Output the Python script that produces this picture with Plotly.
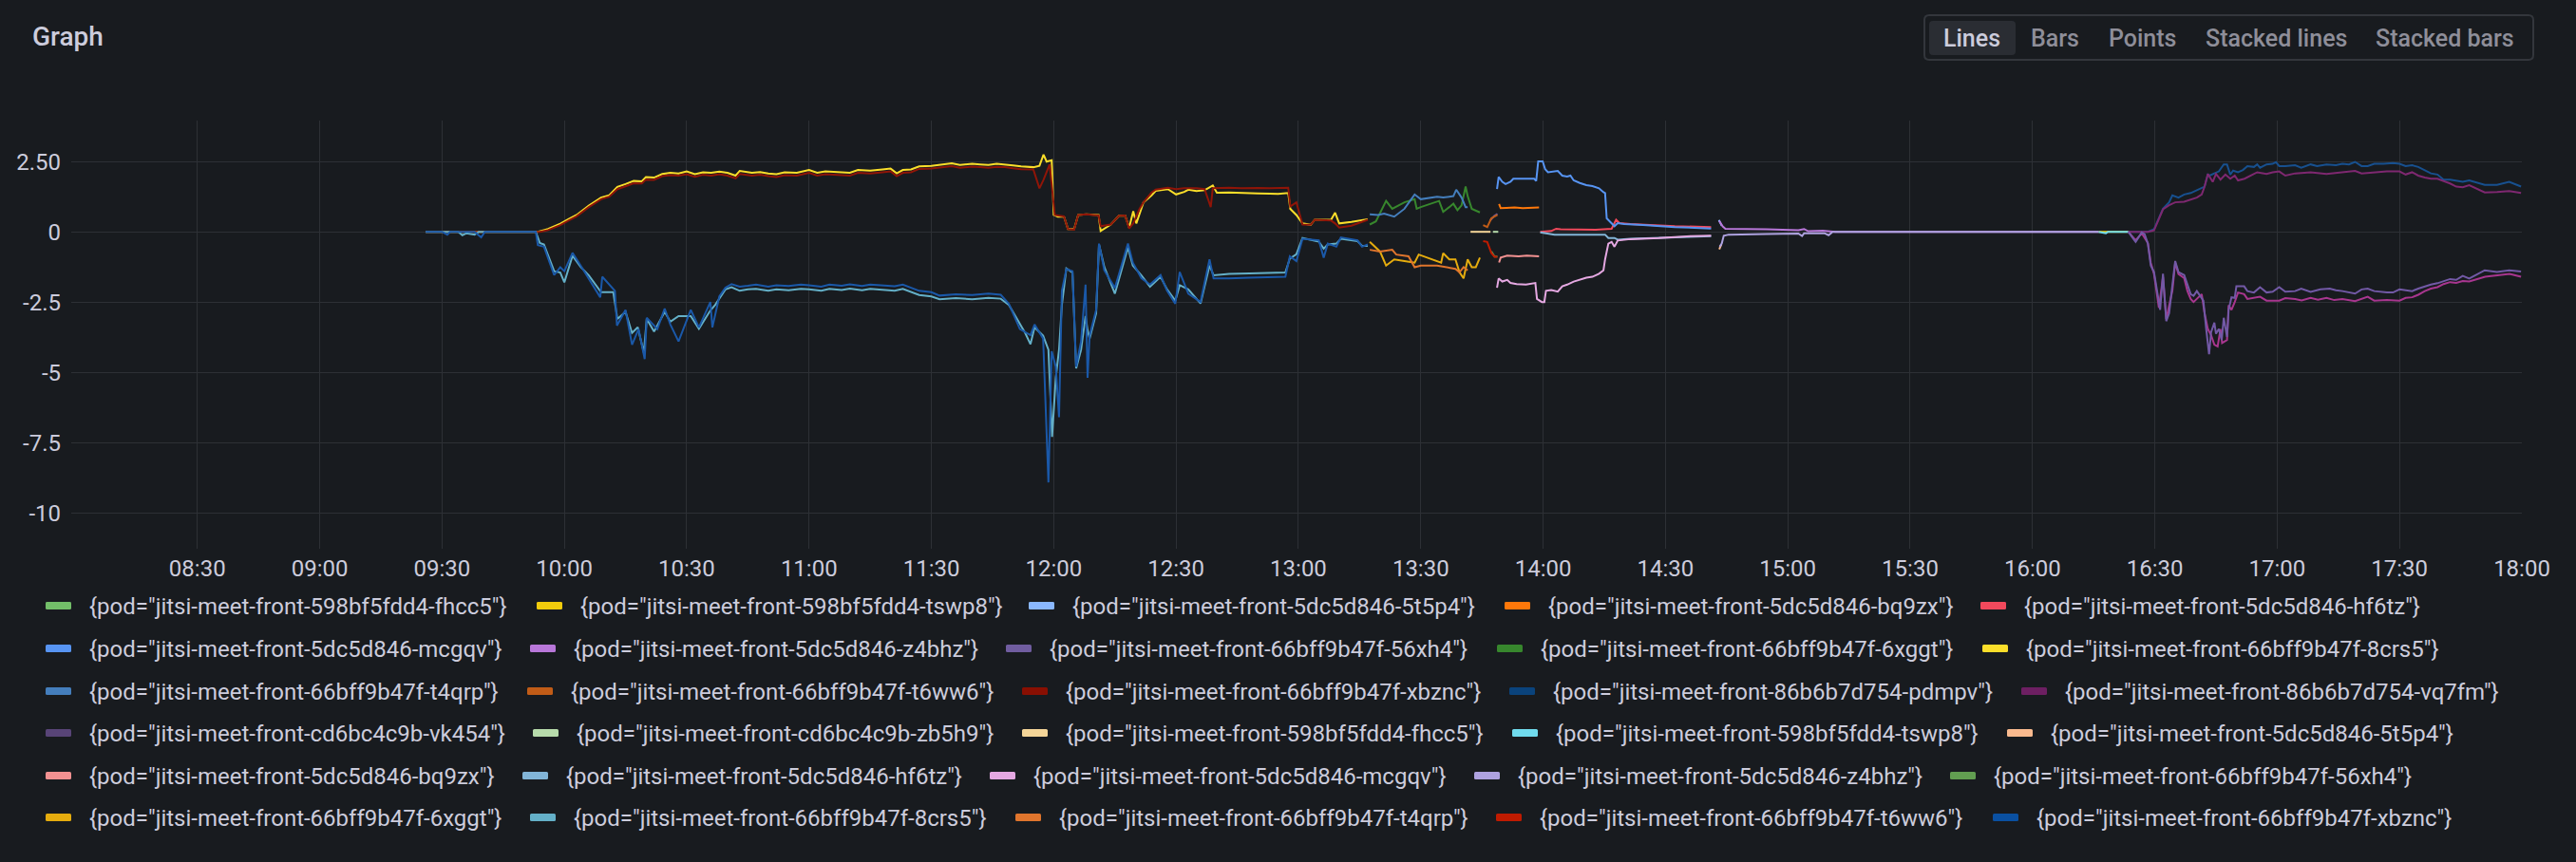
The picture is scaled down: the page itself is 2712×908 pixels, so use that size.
import plotly.graph_objects as go

DAY = "2024-03-15"
W, H = 2712, 908
L, R, T, B = 75, 57, 127, 330
PW, PH = W - L - R, H - T - B
BG = "#181b1f"
TXT = "#ccccdc"
FONT = "Roboto"

# ---------------- axis ticks ----------------
x_tick_labels = ["08:30", "09:00", "09:30", "10:00", "10:30", "11:00", "11:30", "12:00", "12:30",
                 "13:00", "13:30", "14:00", "14:30", "15:00", "15:30", "16:00", "16:30", "17:00",
                 "17:30", "18:00"]
y_tick_vals = [2.5, 0, -2.5, -5, -7.5, -10]
y_tick_text = ["2.50", "0", "-2.5", "-5", "-7.5", "-10"]
x_range = ["07:59:05", "18:00:00"]
y_range = [-11.28, 3.96]

# ---------------- legend ----------------
legend_names = [
    "598bf5fdd4-fhcc5", "598bf5fdd4-tswp8", "5dc5d846-5t5p4", "5dc5d846-bq9zx", "5dc5d846-hf6tz",
    "5dc5d846-mcgqv", "5dc5d846-z4bhz", "66bff9b47f-56xh4", "66bff9b47f-6xggt", "66bff9b47f-8crs5",
    "66bff9b47f-t4qrp", "66bff9b47f-t6ww6", "66bff9b47f-xbznc", "86b6b7d754-pdmpv", "86b6b7d754-vq7fm",
    "cd6bc4c9b-vk454", "cd6bc4c9b-zb5h9", "598bf5fdd4-fhcc5", "598bf5fdd4-tswp8", "5dc5d846-5t5p4",
    "5dc5d846-bq9zx", "5dc5d846-hf6tz", "5dc5d846-mcgqv", "5dc5d846-z4bhz", "66bff9b47f-56xh4",
    "66bff9b47f-6xggt", "66bff9b47f-8crs5", "66bff9b47f-t4qrp", "66bff9b47f-t6ww6", "66bff9b47f-xbznc",
]
legend_colors = [
    "#73BF69", "#F2CC0C", "#8AB8FF", "#FF780A", "#F2495C",
    "#5794F2", "#B877D9", "#705DA0", "#37872D", "#FADE2A",
    "#447EBC", "#C15C17", "#890F02", "#0A437C", "#6D1F62",
    "#584477", "#B7DBAB", "#F4D598", "#70DBED", "#F9BA8F",
    "#F29191", "#82B5D8", "#E5A8E2", "#AEA2E0", "#629E51",
    "#E5AC0E", "#64B0C8", "#E0752D", "#BF1B00", "#0A50A1",
]

# ---------------- series data (time, value) ----------------
up_tswp8 = [("16:16:12", 0), ("16:23:30", 0)]
up_5t5p4 = [("14:43:06", 0.42), ("14:43:48", 0.22)]
up_bq9zx = [("13:49:12", 0.99), ("13:49:36", 0.84), ("13:51", 0.85), ("13:53", 0.87), ("13:55", 0.84),
            ("13:57", 0.86), ("13:59", 0.87)]
up_hf6tz = [("13:59:18", 0.0), ("14:02", 0.03), ("14:03:12", 0.11), ("14:04:18", 0.09), ("14:12:54", 0.07),
            ("14:16:48", 0.11), ("14:17:54", 0.43), ("14:18:42", 0.31), ("14:21:24", 0.28), ("14:32:18", 0.20),
            ("14:41:12", 0.17)]
up_mcgqv = [("13:48:42", 1.52), ("13:49:06", 1.95), ("13:50", 1.78), ("13:50:48", 1.70), ("13:52", 1.78),
            ("13:52:42", 1.89), ("13:55", 1.89), ("13:57:48", 1.89), ("13:58:18", 1.81), ("13:58:48", 2.51),
            ("13:59:54", 2.51), ("14:00:30", 2.23), ("14:01:12", 2.12), ("14:02:24", 2.15), ("14:03:36", 2.17),
            ("14:04:42", 2.00), ("14:05:54", 1.97), ("14:06:42", 2.00), ("14:07:30", 1.83), ("14:09", 1.74),
            ("14:10:36", 1.66), ("14:12:06", 1.63), ("14:13:42", 1.55), ("14:14:48", 1.41), ("14:15:12", 1.38),
            ("14:15:36", 0.48), ("14:16:48", 0.31), ("14:17:30", 0.20), ("14:18:18", 0.31), ("14:19:54", 0.28),
            ("14:24:30", 0.24), ("14:32:18", 0.17), ("14:41:12", 0.12)]
up_z4bhz = [("14:43:12", 0.39), ("14:44", 0.20), ("14:44:42", 0.11), ("14:47:48", 0.11), ("14:54:48", 0.09),
            ("15:02:36", 0.06), ("15:04", 0.10), ("15:05", 0.02), ("15:08:36", 0.04), ("15:11:36", 0.0),
            ("16:16:12", 0.0)]
up_56xh4 = [("13:47", 0.40), ("13:48", 0.56), ("13:48:48", 0.64)]
up_6xggt = [("13:17:30", 0.26), ("13:19", 0.37), ("13:21:30", 1.10), ("13:23", 0.82), ("13:26", 1.05),
            ("13:28:30", 1.16), ("13:29", 0.82), ("13:30", 0.88), ("13:34:30", 1.10), ("13:35:30", 0.71),
            ("13:37", 0.88), ("13:38", 1.00), ("13:39", 0.77), ("13:40", 0.94), ("13:41", 1.61),
            ("13:41:30", 1.27), ("13:42:30", 0.82), ("13:44:30", 0.69)]
up_8crs5 = [("09:26", 0), ("09:53:30", 0), ("09:56", 0.10), ("09:59", 0.29), ("10:01", 0.45), ("10:03", 0.60),
            ("10:06", 0.93), ("10:09", 1.22), ("10:11", 1.30), ("10:13", 1.60), ("10:15", 1.70), ("10:17", 1.81),
            ("10:19", 1.80), ("10:20", 1.95), ("10:22", 1.93), ("10:24", 2.06), ("10:26", 2.10), ("10:28", 2.08),
            ("10:30", 2.15), ("10:32", 2.05), ("10:34", 2.12), ("10:36", 2.10), ("10:38", 2.14), ("10:40", 2.10),
            ("10:42", 2.00), ("10:43", 2.17), ("10:46", 2.10), ("10:48", 2.13), ("10:50", 2.08), ("10:52", 2.05),
            ("10:54", 2.12), ("10:57", 2.10), ("11:00", 2.20), ("11:02", 2.10), ("11:04", 2.15), ("11:07", 2.13),
            ("11:10", 2.10), ("11:12", 2.20), ("11:15", 2.18), ("11:18", 2.22), ("11:20", 2.25), ("11:21:30", 2.08),
            ("11:23", 2.20), ("11:25", 2.22), ("11:27", 2.33), ("11:30", 2.35), ("11:33", 2.40), ("11:35", 2.44),
            ("11:37", 2.38), ("11:40", 2.42), ("11:42", 2.40), ("11:44", 2.38), ("11:46", 2.42), ("11:48", 2.40),
            ("11:50", 2.36), ("11:52", 2.33), ("11:55", 2.30), ("11:56:30", 2.35), ("11:57:30", 2.75),
            ("11:58:15", 2.50), ("11:59:30", 2.55), ("12:00", 0.60), ("12:01", 0.54), ("12:02:30", 0.55),
            ("12:03:30", 0.10), ("12:05", 0.10), ("12:06", 0.60), ("12:08", 0.62), ("12:11", 0.60),
            ("12:11:30", 0.03), ("12:14", 0.26), ("12:16", 0.57), ("12:17:30", 0.58), ("12:18:30", 0.15),
            ("12:19:30", 0.73), ("12:20:15", 0.30), ("12:22", 1.05), ("12:24", 1.30), ("12:25", 1.46),
            ("12:28", 1.52), ("12:30", 1.33), ("12:32", 1.42), ("12:33", 1.50), ("12:35", 1.45), ("12:37", 1.48),
            ("12:39", 1.65), ("12:40", 1.39), ("12:43", 1.40), ("12:46", 1.38), ("12:50", 1.37), ("12:53", 1.36),
            ("12:55", 1.35), ("12:57:30", 1.38), ("12:58", 0.82), ("12:59:30", 0.60), ("13:01", 0.30),
            ("13:03", 0.25), ("13:04", 0.43), ("13:08", 0.43), ("13:09", 0.68), ("13:10", 0.30), ("13:13", 0.35),
            ("13:17", 0.45)]
up_t4qrp = [("13:17:30", 0.62), ("13:19:30", 0.60), ("13:21", 0.65), ("13:23:30", 0.54), ("13:26", 0.82),
            ("13:28:30", 1.33), ("13:30", 1.16), ("13:34", 1.25), ("13:35:30", 1.22), ("13:38", 1.27),
            ("13:38:42", 1.50), ("13:40", 1.22), ("13:41", 0.88), ("13:41:30", 0.88)]
up_t6ww6 = [("13:45:18", 0.24), ("13:46:18", 0.17), ("13:47:18", 0.48), ("13:47:54", 0.54), ("13:48:48", 0.60)]
up_xbznc = [("09:26", 0), ("09:54", 0), ("09:56", 0.06), ("09:59", 0.24), ("10:01", 0.40), ("10:03", 0.55),
            ("10:06", 0.88), ("10:09", 1.16), ("10:11", 1.25), ("10:13", 1.52), ("10:15", 1.62), ("10:17", 1.73),
            ("10:19", 1.72), ("10:20", 1.86), ("10:22", 1.85), ("10:24", 1.98), ("10:26", 2.02), ("10:28", 2.00),
            ("10:30", 2.05), ("10:32", 1.96), ("10:34", 2.03), ("10:36", 2.00), ("10:38", 2.05), ("10:40", 2.00),
            ("10:42", 1.90), ("10:43", 2.06), ("10:46", 2.00), ("10:48", 2.03), ("10:50", 1.98), ("10:52", 1.95),
            ("10:54", 2.02), ("10:57", 2.00), ("11:00", 2.10), ("11:02", 2.00), ("11:04", 2.05), ("11:07", 2.03),
            ("11:10", 2.00), ("11:12", 2.10), ("11:15", 2.08), ("11:18", 2.12), ("11:20", 2.15), ("11:21:30", 1.98),
            ("11:23", 2.10), ("11:25", 2.12), ("11:27", 2.24), ("11:30", 2.25), ("11:33", 2.30), ("11:35", 2.34),
            ("11:37", 2.28), ("11:40", 2.32), ("11:42", 2.30), ("11:44", 2.28), ("11:46", 2.31), ("11:48", 2.30),
            ("11:50", 2.26), ("11:52", 2.23), ("11:55", 2.22), ("11:56:30", 1.55), ("11:57:30", 1.85),
            ("11:59", 2.40), ("12:00:15", 0.60), ("12:02:30", 0.55), ("12:03:30", 0.10), ("12:05", 0.08),
            ("12:06", 0.60), ("12:08", 0.62), ("12:11", 0.58), ("12:11:30", 0.20), ("12:14", 0.26), ("12:16", 0.57),
            ("12:17:30", 0.58), ("12:18:30", 0.12), ("12:19:30", 0.30), ("12:21", 0.80), ("12:22", 1.05),
            ("12:24", 1.40), ("12:25", 1.50), ("12:28", 1.57), ("12:30", 1.52), ("12:32", 1.55), ("12:35", 1.55),
            ("12:37", 1.52), ("12:38:30", 0.88), ("12:39", 1.55), ("12:43", 1.57), ("12:46", 1.55), ("12:50", 1.56),
            ("12:53", 1.55), ("12:57:30", 1.57), ("12:58", 0.90), ("12:59:30", 1.05), ("13:01", 0.26),
            ("13:03", 0.25), ("13:04", 0.43), ("13:08", 0.40), ("13:09", 0.30), ("13:10", 0.15), ("13:13", 0.22),
            ("13:17", 0.43)]
up_pdmpv = [("16:23:30", 0), ("16:28:18", 0), ("16:29:48", 0.09), ("16:32", 0.82), ("16:33:30", 1.05),
            ("16:34:18", 1.30), ("16:35:48", 1.22), ("16:37:12", 1.33), ("16:38:48", 1.38), ("16:40:18", 1.47),
            ("16:41:30", 1.55), ("16:42:12", 1.61), ("16:43", 2.04), ("16:43:24", 2.00), ("16:44:36", 2.08),
            ("16:45:42", 2.15), ("16:46:54", 2.40), ("16:47:42", 2.40), ("16:48:30", 2.04), ("16:49:12", 2.18),
            ("16:50:24", 2.12), ("16:51:36", 2.20), ("16:52:42", 2.34), ("16:54:18", 2.31), ("16:55:06", 2.40),
            ("16:55:48", 2.28), ("16:57:24", 2.40), ("16:58:54", 2.42), ("16:59:42", 2.48), ("17:00:30", 2.34),
            ("17:02", 2.34), ("17:04:24", 2.37), ("17:05:54", 2.28), ("17:08:12", 2.40), ("17:09:48", 2.34),
            ("17:12:06", 2.40), ("17:14:24", 2.37), ("17:16", 2.42), ("17:17:36", 2.40), ("17:19:06", 2.49),
            ("17:20:42", 2.34), ("17:22:12", 2.34), ("17:23:48", 2.42), ("17:26:06", 2.42), ("17:28:24", 2.45),
            ("17:30", 2.42), ("17:31:30", 2.34), ("17:33:06", 2.37), ("17:34:36", 2.31), ("17:36:12", 2.20),
            ("17:37:42", 2.08), ("17:39:18", 2.04), ("17:40:48", 1.86), ("17:42:24", 1.86), ("17:43:54", 1.83),
            ("17:45:30", 1.78), ("17:47:06", 1.83), ("17:50:54", 1.67), ("17:53:54", 1.67), ("17:56:54", 1.78),
            ("17:59:48", 1.61)]
up_vq7fm = [("16:23:30", 0), ("16:28:18", 0), ("16:29:48", 0.05), ("16:32", 0.80), ("16:33:30", 0.95),
            ("16:35", 1.05), ("16:37:12", 1.07), ("16:38:48", 1.16), ("16:40:18", 1.22), ("16:41:30", 1.33),
            ("16:42:12", 1.61), ("16:43", 2.06), ("16:44:12", 1.78), ("16:45", 2.06), ("16:46:06", 1.86),
            ("16:47:18", 2.04), ("16:48:30", 1.89), ("16:49:36", 2.00), ("16:50:24", 1.83), ("16:52", 1.89),
            ("16:53:30", 2.00), ("16:55:06", 2.12), ("16:57:24", 2.06), ("16:58:54", 2.12), ("17:00:30", 2.15),
            ("17:02", 2.00), ("17:04:24", 2.08), ("17:08:12", 2.12), ("17:12:06", 2.06), ("17:16", 2.12),
            ("17:19:06", 2.17), ("17:20:42", 2.08), ("17:23:48", 2.12), ("17:26:54", 2.15), ("17:30", 2.15),
            ("17:31:30", 2.04), ("17:33:06", 2.12), ("17:34:36", 2.00), ("17:36:12", 1.93), ("17:37:42", 1.89),
            ("17:39:18", 1.89), ("17:40:48", 1.81), ("17:42:24", 1.72), ("17:43:54", 1.61), ("17:45:30", 1.59),
            ("17:47:06", 1.66), ("17:50:54", 1.40), ("17:53:54", 1.42), ("17:56:54", 1.45), ("17:59:48", 1.38)]
up_zb5h9 = [("13:47:42", 0), ("13:49", 0)]

lo_fhcc5 = [("13:42:12", 0), ("13:47:06", 0)]
lo_tswp8 = [("16:16:12", 0), ("16:18", -0.05), ("16:18:30", 0), ("16:23:30", 0)]
lo_5t5p4 = [("14:43:12", -0.62), ("14:43:42", -0.45)]
lo_bq9zx = [("13:49:12", -1.09), ("13:49:36", -0.92), ("13:51:12", -0.85), ("13:54", -0.87), ("13:56", -0.85),
            ("13:59", -0.87)]
lo_hf6tz = [("13:59:18", -0.02), ("14:01:12", -0.06), ("14:02:48", -0.10), ("14:15:12", -0.10), ("14:16", -0.22),
            ("14:17:30", -0.22), ("14:18:18", -0.28), ("14:21:24", -0.25), ("14:32:18", -0.20), ("14:41:12", -0.15)]
lo_mcgqv = [("13:48:42", -1.99), ("13:49:06", -1.66), ("13:50", -1.77), ("13:51:12", -1.71), ("13:52", -1.82),
            ("13:53:30", -1.86), ("13:55:48", -1.88), ("13:58:06", -1.82), ("13:58:30", -2.39), ("13:59:42", -2.50),
            ("14:00:18", -2.50), ("14:00:42", -2.10), ("14:02", -2.07), ("14:03:36", -2.13), ("14:04:42", -1.94),
            ("14:05:54", -1.88), ("14:07:30", -1.77), ("14:09", -1.71), ("14:10:36", -1.63), ("14:12:06", -1.60),
            ("14:13:42", -1.49), ("14:14:48", -1.37), ("14:15:12", -0.98), ("14:16", -0.42), ("14:16:48", -0.36),
            ("14:17:30", -0.53), ("14:18:18", -0.31), ("14:21:24", -0.26), ("14:28:24", -0.22), ("14:36:12", -0.15),
            ("14:41:12", -0.14)]
lo_z4bhz = [("14:43:18", -0.53), ("14:43:48", -0.42), ("14:44:18", -0.14), ("14:45:30", -0.10), ("14:54:48", -0.08),
            ("15:02:36", -0.06), ("15:03:30", -0.15), ("15:04", -0.05), ("15:09", -0.05), ("15:10", -0.12),
            ("15:11", 0.0), ("16:16:12", 0.0)]
lo_56xh4 = [("13:47:18", -0.70), ("13:48:06", -0.88), ("13:48:48", -0.88)]
lo_6xggt = [("13:17:30", -0.36), ("13:20", -0.70), ("13:21:30", -1.20), ("13:23:30", -0.98), ("13:26", -1.04),
            ("13:28:30", -1.10), ("13:29:30", -0.81), ("13:33", -0.98), ("13:35", -1.10), ("13:35:30", -0.76),
            ("13:37", -0.98), ("13:38:30", -0.98), ("13:39:30", -1.44), ("13:40:30", -1.66), ("13:41:30", -0.98),
            ("13:42:30", -1.26), ("13:43:30", -1.26), ("13:44:30", -0.92)]
lo_8crs5 = [("09:26", 0), ("09:34", 0), ("09:35", -0.12), ("09:36", -0.05), ("09:38", -0.10), ("09:39", 0),
            ("09:53", 0), ("09:54", -0.40), ("09:55", -0.45), ("09:57:30", -1.40), ("09:59", -1.45), ("10:00", -1.80),
            ("10:02", -0.85), ("10:04", -1.25), ("10:06", -1.55), ("10:09", -2.15), ("10:12", -2.15), ("10:13", -3.10),
            ("10:15", -2.85), ("10:16:36", -3.60), ("10:18", -3.40), ("10:19:30", -4.30), ("10:20:12", -3.10),
            ("10:22", -3.55), ("10:24:36", -2.85), ("10:26", -3.20), ("10:28", -3.00), ("10:31", -3.00),
            ("10:33", -3.45), ("10:35:48", -2.80), ("10:37", -2.60), ("10:39:30", -2.05), ("10:41", -1.97),
            ("10:43", -2.10), ("10:45", -2.05), ("10:47", -2.03), ("10:50", -2.10), ("10:52", -2.05), ("10:55", -2.08),
            ("10:58", -2.03), ("11:00", -2.05), ("11:03", -2.10), ("11:05", -2.03), ("11:08", -2.07), ("11:10", -2.02),
            ("11:13", -2.08), ("11:15", -2.03), ("11:18", -2.07), ("11:21", -2.10), ("11:23", -2.03), ("11:27", -2.25),
            ("11:30", -2.30), ("11:32", -2.40), ("11:36", -2.36), ("11:40", -2.40), ("11:44", -2.35), ("11:47", -2.38),
            ("11:49", -2.60), ("11:51:42", -3.30), ("11:53", -3.60), ("11:54:18", -4.00), ("11:55:18", -3.40),
            ("11:57:24", -3.70), ("11:58:42", -4.20), ("11:59:36", -7.30), ("12:00:30", -5.20), ("12:01:18", -4.20),
            ("12:02", -2.60), ("12:03:06", -1.30), ("12:04:36", -1.45), ("12:05:30", -4.86), ("12:06:42", -4.20),
            ("12:07:48", -3.00), ("12:08:18", -3.50), ("12:08:48", -3.80), ("12:10:24", -2.90), ("12:11:06", -0.45),
            ("12:12:24", -1.25), ("12:15", -2.20), ("12:18:12", -0.55), ("12:19:24", -1.20), ("12:21:30", -1.55),
            ("12:23:36", -1.95), ("12:26:12", -1.60), ("12:27:48", -2.05), ("12:29:48", -2.45), ("12:30:54", -1.90),
            ("12:33", -2.05), ("12:36", -2.55), ("12:38:12", -1.20), ("12:39:12", -1.55), ("12:43", -1.50),
            ("12:48", -1.48), ("12:52", -1.47), ("12:56:48", -1.45), ("12:57:54", -0.95), ("12:59:30", -0.80),
            ("13:01", -0.22), ("13:05", -0.35), ("13:06:12", -0.60), ("13:07:12", -0.45), ("13:09:18", -0.42),
            ("13:10:24", -0.25), ("13:14:30", -0.33), ("13:15:36", -0.50), ("13:17", -0.50)]
lo_t4qrp = [("13:17:30", -0.64), ("13:20", -0.70), ("13:23", -0.64), ("13:24", -0.81), ("13:27", -0.87),
            ("13:28:30", -1.26), ("13:30", -1.20), ("13:34", -1.20), ("13:38:30", -1.32), ("13:39:30", -1.44),
            ("13:40:30", -1.26), ("13:41:30", -1.37)]
lo_t6ww6 = [("13:45:18", -0.33), ("13:46:18", -0.36), ("13:47:18", -0.75), ("13:48:06", -0.89), ("13:48:48", -0.89)]
lo_xbznc = [("09:26", 0), ("09:30", 0), ("09:31:18", -0.10), ("09:32", 0), ("09:38", 0), ("09:39:36", -0.20),
            ("09:40:30", 0), ("09:53", 0), ("09:53:30", -0.47), ("09:55", -0.53), ("09:57:30", -1.54),
            ("09:59", -1.26), ("10:00", -1.40), ("10:02", -0.75), ("10:04", -1.20), ("10:06", -1.66),
            ("10:08:48", -2.33), ("10:09:18", -1.60), ("10:12:24", -2.10), ("10:12:54", -3.34), ("10:15", -2.78),
            ("10:16:36", -4.02), ("10:18:12", -3.46), ("10:19:42", -4.53), ("10:20:12", -3.06), ("10:22:48", -3.46),
            ("10:24:36", -2.73), ("10:26", -3.30), ("10:28", -3.90), ("10:31", -2.78), ("10:33", -3.40),
            ("10:35:48", -2.50), ("10:36:18", -3.40), ("10:38", -2.30), ("10:39:30", -1.99), ("10:41", -1.86),
            ("10:43", -1.95), ("10:45", -1.92), ("10:47", -1.88), ("10:50", -1.95), ("10:52", -1.90), ("10:55", -1.93),
            ("10:58", -1.88), ("11:00", -1.90), ("11:03", -1.95), ("11:05", -1.88), ("11:08", -1.92), ("11:10", -1.87),
            ("11:13", -1.93), ("11:15", -1.88), ("11:18", -1.92), ("11:21", -1.94), ("11:23", -1.88), ("11:27", -2.10),
            ("11:30", -2.15), ("11:32", -2.27), ("11:36", -2.22), ("11:40", -2.25), ("11:44", -2.20), ("11:47", -2.24),
            ("11:49", -2.56), ("11:51:42", -3.46), ("11:54:18", -3.68), ("11:55:18", -3.30), ("11:57:24", -3.80),
            ("11:58:42", -8.92), ("11:59:30", -4.25), ("12:00:30", -4.80), ("12:01:18", -6.60), ("12:02", -2.10),
            ("12:03:06", -1.32), ("12:04:36", -1.40), ("12:05:30", -4.80), ("12:06:42", -3.90), ("12:07:48", -1.88),
            ("12:08:18", -5.20), ("12:08:48", -3.70), ("12:10:24", -2.78), ("12:11:06", -0.42), ("12:12:24", -1.37),
            ("12:15", -2.00), ("12:18:12", -0.42), ("12:19:24", -1.10), ("12:21:30", -1.65), ("12:23:36", -1.88),
            ("12:26:12", -1.54), ("12:27:48", -2.10), ("12:29:48", -2.56), ("12:30:54", -1.43), ("12:33", -2.20),
            ("12:36", -2.50), ("12:38:12", -0.98), ("12:39:12", -1.66), ("12:43", -1.66), ("12:48", -1.63),
            ("12:52", -1.62), ("12:56:48", -1.60), ("12:57:54", -0.87), ("12:59:30", -1.04), ("13:01", -0.25),
            ("13:05", -0.30), ("13:06:12", -0.92), ("13:07:12", -0.42), ("13:09:18", -0.53), ("13:10:24", -0.20),
            ("13:14:30", -0.30), ("13:15:36", -0.53), ("13:17", -0.45)]
lo_pdmpv = [("16:23:30", 0), ("16:25:18", -0.30), ("16:26:48", -0.05), ("16:28:18", -0.40), ("16:29", -1.10),
            ("16:29:48", -1.50), ("16:31", -2.70), ("16:32", -1.60), ("16:32:48", -3.10), ("16:34:18", -2.10),
            ("16:35", -1.10), ("16:35:48", -1.50), ("16:37:12", -1.65), ("16:38", -2.11), ("16:38:48", -2.39),
            ("16:39:30", -2.50), ("16:40:42", -2.33), ("16:41:30", -2.22), ("16:42:12", -2.90), ("16:43", -3.46),
            ("16:43:48", -3.68), ("16:44:36", -4.02), ("16:45:24", -4.08), ("16:46:06", -3.46), ("16:46:30", -3.96),
            ("16:47:42", -3.85), ("16:48:06", -2.61), ("16:48:48", -2.78), ("16:49:36", -2.50), ("16:50:24", -2.16),
            ("16:51:54", -2.22), ("16:52:42", -2.39), ("16:55:48", -2.31), ("16:57:24", -2.45), ("17:00:30", -2.45),
            ("17:02", -2.36), ("17:04:24", -2.39), ("17:06", -2.44), ("17:08:12", -2.35), ("17:10", -2.42),
            ("17:12:06", -2.35), ("17:14", -2.43), ("17:16", -2.39), ("17:19:06", -2.47), ("17:22:12", -2.31),
            ("17:23:48", -2.45), ("17:26:54", -2.43), ("17:30", -2.45), ("17:31:30", -2.35), ("17:33:06", -2.33),
            ("17:34:36", -2.24), ("17:36:12", -2.11), ("17:37:42", -2.02), ("17:39:18", -1.97), ("17:40:48", -1.86),
            ("17:42:24", -1.79), ("17:43:54", -1.82), ("17:45:30", -1.75), ("17:47:06", -1.77), ("17:51", -1.60),
            ("17:54", -1.55), ("17:57", -1.50), ("17:59:48", -1.60)]
lo_vq7fm = [("16:23:30", 0), ("16:25:18", -0.36), ("16:26:48", -0.02), ("16:27:30", -0.08), ("16:28:18", -0.42),
            ("16:29", -1.20), ("16:29:48", -1.43), ("16:31:18", -2.78), ("16:32", -1.49), ("16:32:48", -3.18),
            ("16:33:30", -2.90), ("16:34:18", -2.00), ("16:35", -1.04), ("16:35:48", -1.43), ("16:37:12", -1.54),
            ("16:38", -1.88), ("16:38:48", -2.22), ("16:39:30", -2.28), ("16:40:18", -2.11), ("16:41:06", -2.28),
            ("16:41:54", -2.45), ("16:42:36", -3.46), ("16:43:18", -4.36), ("16:43:48", -3.57), ("16:44:36", -3.23),
            ("16:45", -3.63), ("16:45:42", -3.46), ("16:46:24", -3.85), ("16:46:54", -3.06), ("16:47:42", -3.74),
            ("16:48:06", -2.78), ("16:48:48", -2.33), ("16:49:36", -2.35), ("16:50", -1.94), ("16:51:54", -1.94),
            ("16:52:42", -2.11), ("16:54:18", -2.16), ("16:55:48", -1.97), ("16:57:24", -2.16), ("16:58:54", -2.13),
            ("17:00:30", -1.97), ("17:02", -2.13), ("17:04:24", -2.11), ("17:05:54", -2.02), ("17:08:12", -2.14),
            ("17:10:36", -2.05), ("17:12:54", -2.02), ("17:14:24", -2.08), ("17:16", -2.11), ("17:19:06", -2.20),
            ("17:20:42", -2.05), ("17:22:12", -2.02), ("17:23:48", -2.11), ("17:26:54", -2.16), ("17:28:24", -2.16),
            ("17:30", -2.05), ("17:31:30", -2.08), ("17:33:06", -2.11), ("17:34:36", -2.02), ("17:36:12", -1.94),
            ("17:37:42", -1.88), ("17:39:18", -1.83), ("17:40:48", -1.77), ("17:42:24", -1.68), ("17:43:54", -1.71),
            ("17:45:30", -1.57), ("17:47:06", -1.66), ("17:50:54", -1.37), ("17:53:54", -1.43), ("17:56:54", -1.37),
            ("17:59:48", -1.41)]

# drawing order follows the legend order (later series on top)
series = [
    ("tswp8", "#F2CC0C", up_tswp8), ("5t5p4", "#8AB8FF", up_5t5p4), ("bq9zx", "#FF780A", up_bq9zx),
    ("hf6tz", "#F2495C", up_hf6tz), ("mcgqv", "#5794F2", up_mcgqv), ("z4bhz", "#B877D9", up_z4bhz),
    ("56xh4", "#705DA0", up_56xh4), ("6xggt", "#37872D", up_6xggt), ("8crs5", "#FADE2A", up_8crs5),
    ("t4qrp", "#447EBC", up_t4qrp), ("t6ww6", "#C15C17", up_t6ww6), ("xbznc", "#8F1508", up_xbznc),
    ("pdmpv", "#17508f", up_pdmpv), ("vq7fm", "#7e2870", up_vq7fm), ("zb5h9", "#B7DBAB", up_zb5h9),
    ("fhcc5 ", "#F4D598", lo_fhcc5), ("tswp8 ", "#70DBED", lo_tswp8), ("5t5p4 ", "#F9BA8F", lo_5t5p4),
    ("bq9zx ", "#F29191", lo_bq9zx), ("hf6tz ", "#82B5D8", lo_hf6tz), ("mcgqv ", "#E5A8E2", lo_mcgqv),
    ("z4bhz ", "#AEA2E0", lo_z4bhz), ("56xh4 ", "#629E51", lo_56xh4), ("6xggt ", "#E5AC0E", lo_6xggt),
    ("8crs5 ", "#64B0C8", lo_8crs5), ("t4qrp ", "#E0752D", lo_t4qrp), ("t6ww6 ", "#BF1B00", lo_t6ww6),
    ("xbznc ", "#1A58A8", lo_xbznc), ("pdmpv ", "#a8368f", lo_pdmpv), ("vq7fm ", "#7259a6", lo_vq7fm),
]


def ts(hms):
    return f"{DAY} {hms}"


fig = go.Figure()
for name, color, pts in series:
    fig.add_trace(go.Scatter(
        x=[ts(t) for t, _ in pts], y=[v for _, v in pts], mode="lines", name=name,
        line=dict(color=color, width=2), showlegend=False, hoverinfo="skip"))


# ---------------- helpers for pixel layout ----------------
def fx(x):
    return (x - L) / PW


def fy(y):
    return (T + PH - y) / PH


def rrect(x0, y0, x1, y1, r):
    p = [("M", x0 + r, y0), ("L", x1 - r, y0), ("Q", x1, y0, x1, y0 + r), ("L", x1, y1 - r),
         ("Q", x1, y1, x1 - r, y1), ("L", x0 + r, y1), ("Q", x0, y1, x0, y1 - r), ("L", x0, y0 + r),
         ("Q", x0, y0, x0 + r, y0)]
    s = ""
    for seg in p:
        cmd, coords = seg[0], seg[1:]
        pairs = [f"{fx(coords[i]):.6f},{fy(coords[i + 1]):.6f}" for i in range(0, len(coords), 2)]
        s += cmd + " " + " ".join(pairs) + " "
    return s + "Z"


shapes = []
annotations = []

# title
annotations.append(dict(text="Graph", x=fx(32), y=fy(38), xref="paper", yref="paper", xanchor="left",
                        yanchor="middle", showarrow=False,
                        font=dict(family=FONT, size=28, color=TXT, weight=500)))

# mode button group
button_labels = ["Lines", "Bars", "Points", "Stacked lines", "Stacked bars"]
button_cx = [2076, 2163, 2255, 2396, 2574]
shapes.append(dict(type="path", path=rrect(2026, 16, 2667, 63, 5), xref="paper", yref="paper",
                   line=dict(color="#33363c", width=2), fillcolor=BG))
shapes.append(dict(type="path", path=rrect(2031, 22, 2122, 58, 4), xref="paper", yref="paper",
                   line=dict(width=0), fillcolor="#2a2d33"))
for i, (lab, cx) in enumerate(zip(button_labels, button_cx)):
    annotations.append(dict(text=lab, x=fx(cx), y=fy(40), xref="paper", yref="paper", xanchor="center",
                            yanchor="middle", showarrow=False,
                            font=dict(family=FONT, size=25, color=TXT if i == 0 else "#8e8e99", weight=500)))

# legend
legend_rows_y = [638, 683, 728, 772, 817, 861]
legend_cols_x = [[48, 565, 1083, 1584, 2085], [48, 558, 1059, 1576, 2087], [48, 555, 1076, 1589, 2128],
                 [48, 561, 1076, 1592, 2113], [48, 550, 1042, 1552, 2053], [48, 558, 1069, 1575, 2098]]
for i, (nm, col) in enumerate(zip(legend_names, legend_colors)):
    r, c = divmod(i, 5)
    sx, sy = legend_cols_x[r][c], legend_rows_y[r]
    shapes.append(dict(type="path", path=rrect(sx, sy - 4, sx + 27, sy + 4, 1.5), xref="paper",
                       yref="paper", line=dict(width=0), fillcolor=col))
    annotations.append(dict(text='{pod="jitsi-meet-front-' + nm + '"}', x=fx(sx + 44), y=fy(sy + 1),
                            xref="paper", yref="paper", xanchor="left", yanchor="middle", showarrow=False,
                            font=dict(family=FONT, size=24, color=TXT)))

grid = "#2d3035"
fig.update_layout(
    width=W, height=H, autosize=False,
    margin=dict(l=L, r=R, t=T, b=B, pad=0),
    paper_bgcolor=BG, plot_bgcolor=BG,
    font=dict(family=FONT, size=24, color=TXT),
    showlegend=False,
    shapes=shapes, annotations=annotations,
    xaxis=dict(type="date", range=[ts(x_range[0]), ts(x_range[1])],
               tickvals=[ts(t) for t in x_tick_labels], ticktext=x_tick_labels,
               showgrid=True, gridcolor=grid, gridwidth=1, zeroline=False, showline=False, ticks="",
               tickfont=dict(family=FONT, size=24, color=TXT), ticklabelstandoff=4, fixedrange=True),
    yaxis=dict(range=y_range, tickvals=y_tick_vals, ticktext=y_tick_text,
               showgrid=True, gridcolor=grid, gridwidth=1, zeroline=False, showline=False, ticks="",
               tickfont=dict(family=FONT, size=24, color=TXT), ticklabelstandoff=10, fixedrange=True),
)

fig.write_html("out.html")
